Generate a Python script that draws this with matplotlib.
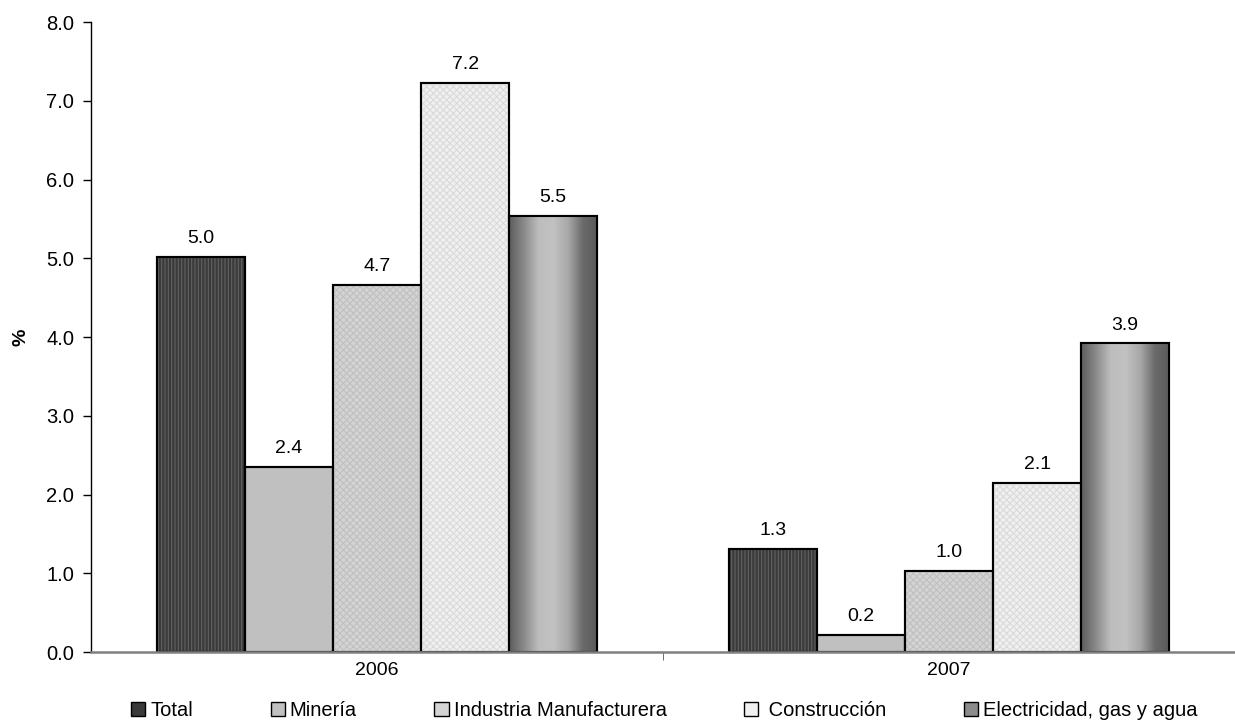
import numpy as np
import matplotlib
matplotlib.use("Agg")
import matplotlib.pyplot as plt
from matplotlib.patches import Patch
from matplotlib.colors import LinearSegmentedColormap

plt.rcParams["font.family"] = ["Liberation Sans", "DejaVu Sans"]
plt.rcParams["hatch.linewidth"] = 0.8

anios = ["2006", "2007"]
sectores = ["Total", "Minería", "Industria Manufacturera", " Construcción", "Electricidad, gas y agua"]
valores = {
    "Total": [5.02, 1.31],
    "Minería": [2.35, 0.22],
    "Industria Manufacturera": [4.66, 1.03],
    " Construcción": [7.23, 2.15],
    "Electricidad, gas y agua": [5.54, 3.92],
}

# estilo de cada serie: color de fondo, trama, color de trama
estilos = {
    "Total": ("#3a3a3a", "|||||", "#626262"),
    "Minería": ("#c0c0c0", None, None),
    "Industria Manufacturera": ("#d4d4d4", "xxxxx", "#c0c0c0"),
    " Construcción": ("#f0f0f0", "xxxxx", "#dadada"),
    "Electricidad, gas y agua": ("#8c8c8c", None, None),
}

grad_cmap = LinearSegmentedColormap.from_list(
    "grad", ["#5c5c5c", "#8a8a8a", "#bdbdbd", "#c2c2c2", "#a8a8a8", "#6a6a6a", "#5a5a5a"]
)

fig = plt.figure(figsize=(12.35, 7.24), dpi=100)
ax = fig.add_axes([0.0737, 0.0994, 0.9263, 0.8702])

x = np.arange(len(anios))
ancho = 0.77 / len(sectores)

for i, sec in enumerate(sectores):
    pos = x - 0.385 + ancho * (i + 0.5)
    face, hatch, hcol = estilos[sec]
    bars = ax.bar(pos, valores[sec], width=ancho, color=face,
                  edgecolor="black", linewidth=1.5, zorder=2)
    if hatch is not None:
        ax.bar(pos, valores[sec], width=ancho, color="none",
               edgecolor=hcol, linewidth=0, hatch=hatch, zorder=2.1)
    if sec.startswith("Electricidad"):
        grad = np.linspace(0, 1, 256).reshape(1, -1)
        for b in bars:
            im = ax.imshow(grad, extent=[b.get_x(), b.get_x() + b.get_width(), 0, b.get_height()],
                           aspect="auto", cmap=grad_cmap, zorder=2.05, interpolation="bilinear")
            im.set_clip_path(b)
    # bordes encima de la trama
    ax.bar(pos, valores[sec], width=ancho, color="none",
           edgecolor="black", linewidth=1.5, zorder=2.2)
    for p, v in zip(pos, valores[sec]):
        ax.annotate(f"{v:.1f}", (p, v), xytext=(0, 7), textcoords="offset points",
                    ha="center", va="bottom", fontsize=14)

ax.set_xlim(-0.5, 1.5)
ax.set_ylim(0, 8)
ax.set_yticks(np.arange(0, 8.1, 1.0))
ax.set_yticklabels([f"{t:.1f}" for t in np.arange(0, 8.1, 1.0)], fontsize=14.5)
ax.set_xticks(x)
ax.set_xticklabels(anios, fontsize=14)
ax.tick_params(axis="x", which="major", length=0, pad=7)
ax.set_xticks([0.5], minor=True)
ax.tick_params(axis="x", which="minor", length=6, color="#555555")
ax.tick_params(axis="y", length=6, width=1, pad=6)

ax.spines["top"].set_visible(False)
ax.spines["right"].set_visible(False)
ax.spines["bottom"].set_color("#808080")
ax.spines["bottom"].set_linewidth(1.8)
ax.spines["left"].set_linewidth(1.0)

ax.set_ylabel("%", fontsize=14, fontweight="bold", labelpad=12)

handles = [Patch(facecolor=estilos[s][0], edgecolor="black", linewidth=1.0, label=s) for s in sectores]
fig.legend(handles=handles, loc="center", bbox_to_anchor=(0.538, 0.019), ncol=5,
           frameon=False, fontsize=14.5, handlelength=0.7, handleheight=0.7,
           handletextpad=0.25, columnspacing=3.85, borderpad=0)

fig.savefig("out.png", dpi=100)
